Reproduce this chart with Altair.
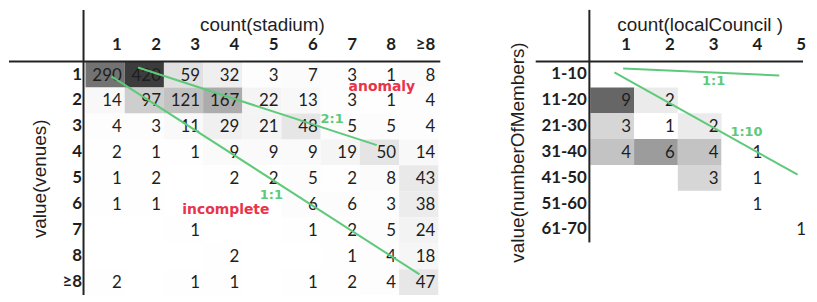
import altair as alt
import pandas as pd

# ---------------- data: left heatmap (stadium x venues) ----------------
stadium_cols = ["1", "2", "3", "4", "5", "6", "7", "8", "≥8"]
venue_rows = ["1", "2", "3", "4", "5", "6", "7", "8", "≥8"]
venues_1 = [290, 420, 59, 32, 3, 7, 3, 1, 8]
venues_2 = [14, 97, 121, 167, 22, 13, 3, 1, 4]
venues_3 = [4, 3, 11, 29, 21, 48, 5, 5, 4]
venues_4 = [2, 1, 1, 9, 9, 9, 19, 50, 14]
venues_5 = [1, 2, None, 2, 2, 5, 2, 8, 43]
venues_6 = [1, 1, None, None, None, 6, 6, 3, 38]
venues_7 = [None, None, 1, None, None, 1, 2, 5, 24]
venues_8 = [None, None, None, 2, None, None, 1, 4, 18]
venues_ge8 = [2, None, 1, 1, None, 1, 2, 4, 47]
venues_table = [venues_1, venues_2, venues_3, venues_4, venues_5,
                venues_6, venues_7, venues_8, venues_ge8]

# ---------------- data: right heatmap (localCouncil x members) ----------------
council_cols = ["1", "2", "3", "4", "5"]
member_rows = ["1-10", "11-20", "21-30", "31-40", "41-50", "51-60", "61-70"]
members_1_10 = [None, None, None, None, None]
members_11_20 = [9, 2, None, None, None]
members_21_30 = [3, 1, 2, None, None]
members_31_40 = [4, 6, 4, 1, None]
members_41_50 = [None, None, 3, 1, None]
members_51_60 = [None, None, None, 1, None]
members_61_70 = [None, None, None, None, 1]
members_table = [members_1_10, members_11_20, members_21_30, members_31_40,
                 members_41_50, members_51_60, members_61_70]

# ---------------- annotations (in cell units) ----------------
left_line_x = [1.34, 0.66]
left_line_y = [0.23, 0.57]
left_line_x2 = [7.43, 8.52]
left_line_y2 = [3.22, 8.20]
left_green_text = ["2:1", "1:1"]
left_green_x = [6.29, 4.74]
left_green_y = [2.22, 5.13]
left_red_text = ["anomaly", "incomplete"]
left_red_x = [7.56, 3.58]
left_red_y = [1.0, 5.71]

right_line_x = [0.75, 0.55]
right_line_y = [0.27, 0.42]
right_line_x2 = [4.32, 4.74]
right_line_y2 = [0.54, 4.38]
right_green_text = ["1:1", "1:10"]
right_green_x = [2.82, 3.57]
right_green_y = [0.77, 2.73]

GREEN = "#5ec97a"
RED = "#e8334a"
INK = "#1e1e1e"


def table_df(rows, cols, table):
    recs = []
    for r, vals in zip(rows, table):
        for c, v in zip(cols, vals):
            if v is not None:
                recs.append({"row": r, "col": c, "value": v})
    return pd.DataFrame(recs)


def panel(rows, cols, table, xtitle, ytitle, width, height, cdomain, crange,
          lines, greens, reds):
    df = table_df(rows, cols, table)
    ncol, nrow = len(cols), len(rows)
    bandw = width / ncol
    base = alt.Chart(df)
    x = alt.X("col:O", sort=cols, scale=alt.Scale(domain=cols, paddingInner=0, paddingOuter=0),
              axis=alt.Axis(orient="top", title=xtitle, domain=False, ticks=False,
                            labelAngle=0, labelAlign="right", labelOffset=bandw / 2 - 3,
                            labelFont="Lato", labelFontWeight="bold", labelFontSize=17,
                            labelColor=INK, labelPadding=8,
                            titleFont="Liberation Sans", titleFontWeight="normal",
                            titleFontSize=19, titleColor=INK,
                            titleY=-31, titleBaseline="alphabetic"))
    y = alt.Y("row:O", sort=rows, scale=alt.Scale(domain=rows, paddingInner=0, paddingOuter=0),
              axis=alt.Axis(title=ytitle, domain=False, ticks=False,
                            labelFont="Lato", labelFontWeight="bold", labelFontSize=17,
                            labelColor=INK, labelPadding=4,
                            titleFont="Liberation Sans", titleFontWeight="normal",
                            titleFontSize=19, titleColor=INK, titlePadding=13))
    rects = base.mark_rect().encode(
        x=x, y=y,
        color=alt.Color("value:Q", scale=alt.Scale(domain=cdomain, range=crange, clamp=True),
                        legend=None))
    texts = base.mark_text(align="right", baseline="middle", dx=bandw / 2 - 3, dy=1,
                           font="Lato", fontSize=17, color=INK).encode(
        x=alt.X("col:O", sort=cols), y=alt.Y("row:O", sort=rows), text="value:Q")
    grid = alt.layer(rects, texts)

    qx = alt.Scale(domain=[0, ncol], nice=False, zero=False)
    qy = alt.Scale(domain=[0, nrow], nice=False, zero=False, reverse=True)
    ldf = pd.DataFrame({"x": lines[0], "y": lines[1], "x2": lines[2], "y2": lines[3]})
    line_layer = alt.Chart(ldf).mark_rule(color=GREEN, strokeWidth=2).encode(
        x=alt.X("x:Q", scale=qx, axis=None), y=alt.Y("y:Q", scale=qy, axis=None),
        x2="x2:Q", y2="y2:Q")
    gdf = pd.DataFrame({"t": greens[0], "x": greens[1], "y": greens[2]})
    green_layer = alt.Chart(gdf).mark_text(font="DejaVu Sans", fontWeight="bold",
                                           fontSize=13, color=GREEN).encode(
        x=alt.X("x:Q", scale=qx, axis=None), y=alt.Y("y:Q", scale=qy, axis=None), text="t:N")
    ann = [line_layer, green_layer]
    if reds is not None:
        rdf = pd.DataFrame({"t": reds[0], "x": reds[1], "y": reds[2]})
        red_layer = alt.Chart(rdf).mark_text(font="DejaVu Sans", fontWeight="bold",
                                             fontSize=14, color=RED).encode(
            x=alt.X("x:Q", scale=qx, axis=None), y=alt.Y("y:Q", scale=qy, axis=None), text="t:N")
        ann.append(red_layer)
    return grid, alt.layer(*ann)


LW, LH = 355, 235
RW, RH = 220, 182

left_grid, left_ann = panel(venue_rows, stadium_cols, venues_table, "count(stadium)",
                            "value(venues)", LW, LH, [0, 420], ["#ffffff", "#3c3c3c"],
                            (left_line_x, left_line_y, left_line_x2, left_line_y2),
                            (left_green_text, left_green_x, left_green_y),
                            (left_red_text, left_red_x, left_red_y))
right_grid, right_ann = panel(member_rows, council_cols, members_table, "count(localCouncil )",
                              "value(numberOfMembers)", RW, RH, [1, 9], ["#ffffff", "#666666"],
                              (right_line_x, right_line_y, right_line_x2, right_line_y2),
                              (right_green_text, right_green_x, right_green_y), None)

one = alt.Data(values=[{"k": 1}])
left_borders = alt.layer(
    alt.Chart(one).mark_rule(color="#222", strokeWidth=2).encode(
        x=alt.value(-77), x2=alt.value(LW + 2), y=alt.value(0)),
    alt.Chart(one).mark_rule(color="#222", strokeWidth=2).encode(
        x=alt.value(-2), y=alt.value(-52), y2=alt.value(LH)),
)
right_borders = alt.layer(
    alt.Chart(one).mark_rule(color="#222", strokeWidth=2).encode(
        x=alt.value(-55), x2=alt.value(RW - 6), y=alt.value(0)),
    alt.Chart(one).mark_rule(color="#222", strokeWidth=2).encode(
        x=alt.value(-1), y=alt.value(-52), y2=alt.value(RH)),
)

left = alt.layer(left_grid, left_ann, left_borders).resolve_scale(
    x="independent", y="independent").properties(width=LW, height=LH)
right = alt.layer(right_grid, right_ann, right_borders).resolve_scale(
    x="independent", y="independent").properties(width=RW, height=RH)

chart = alt.hconcat(left, right, spacing=68).resolve_scale(
    color="independent"
).properties(
    padding={"left": 0, "top": 0, "right": 0, "bottom": 0},
    background="white",
).configure_view(stroke=None)

chart.save("out.html", embed_options={"renderer": "svg", "actions": False})
